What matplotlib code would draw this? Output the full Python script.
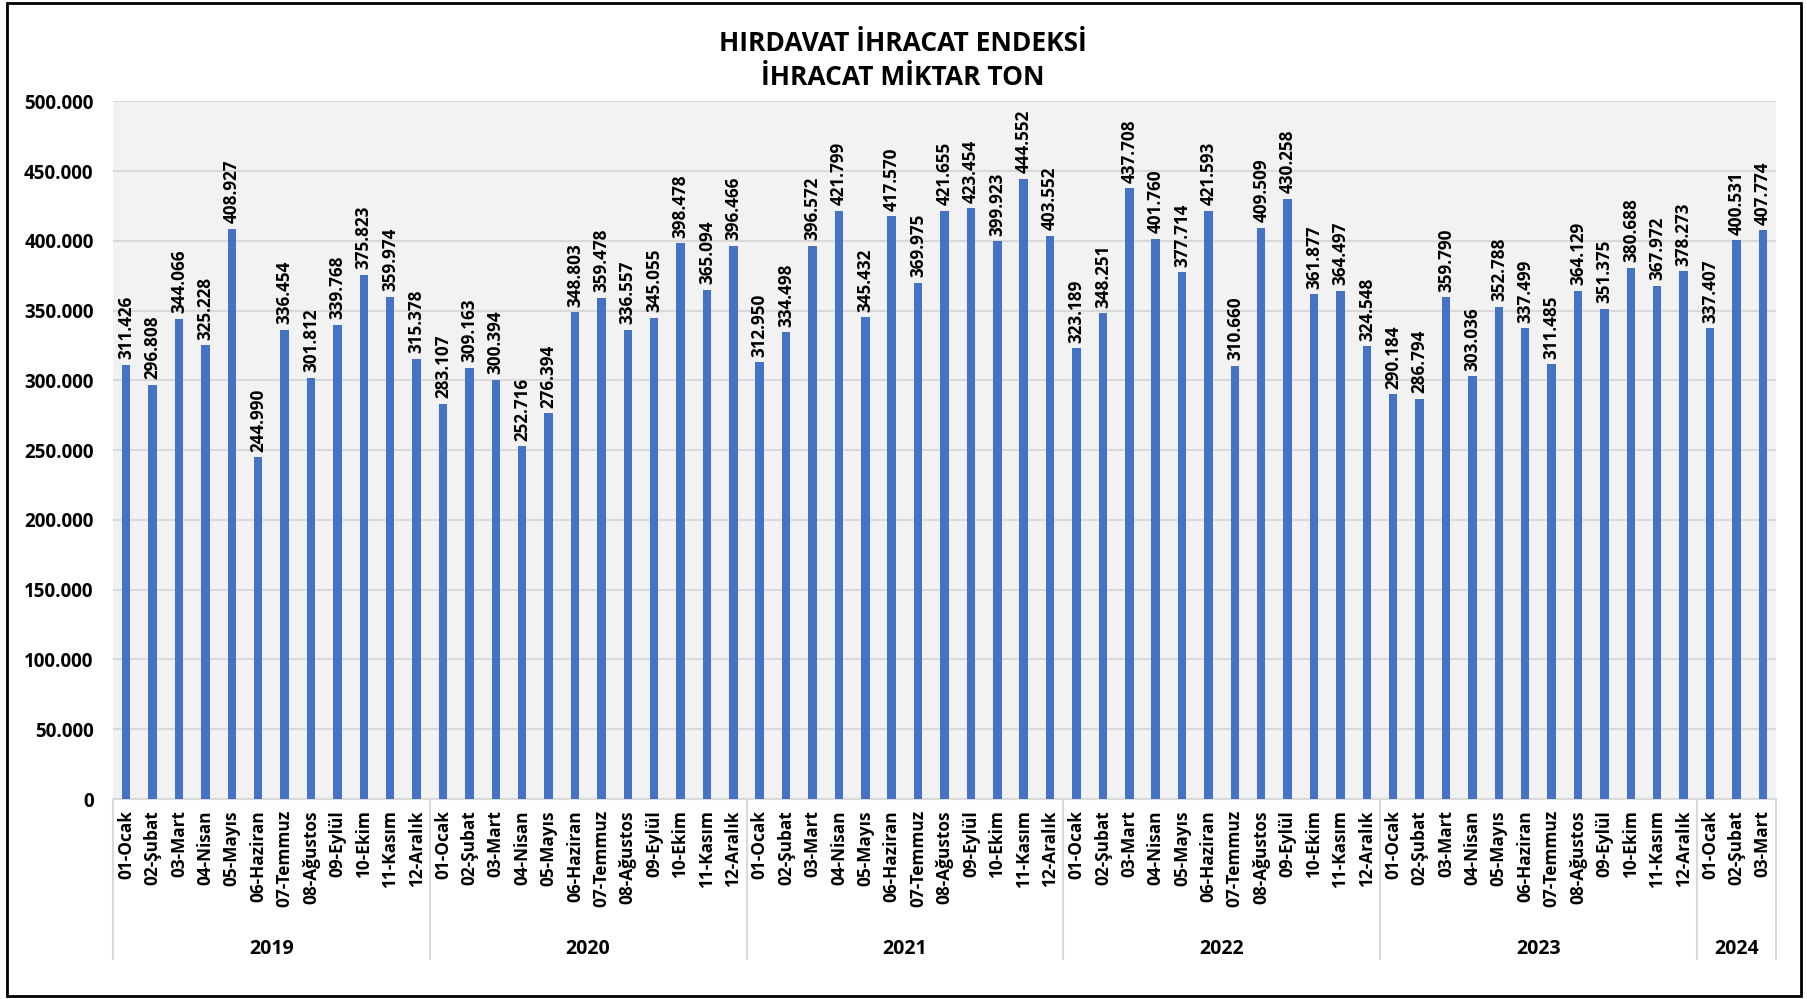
import matplotlib.pyplot as plt
import matplotlib.transforms as mtransforms
from matplotlib.patches import Rectangle
import numpy as np

plt.rcParams['font.family'] = ['Open Sans', 'DejaVu Sans']

# data
months = ["01-Ocak", "02-Şubat", "03-Mart", "04-Nisan", "05-Mayıs", "06-Haziran",
          "07-Temmuz", "08-Ağustos", "09-Eylül", "10-Ekim", "11-Kasım", "12-Aralık"]
years = ["2019", "2020", "2021", "2022", "2023", "2024"]

v2019 = [311426, 296808, 344066, 325228, 408927, 244990, 336454, 301812, 339768, 375823, 359974, 315378]
v2020 = [283107, 309163, 300394, 252716, 276394, 348803, 359478, 336557, 345055, 398478, 365094, 396466]
v2021 = [312950, 334498, 396572, 421799, 345432, 417570, 369975, 421655, 423454, 399923, 444552, 403552]
v2022 = [323189, 348251, 437708, 401760, 377714, 421593, 310660, 409509, 430258, 361877, 364497, 324548]
v2023 = [290184, 286794, 359790, 303036, 352788, 337499, 311485, 364129, 351375, 380688, 367972, 378273]
v2024 = [337407, 400531, 407774]

series = [v2019, v2020, v2021, v2022, v2023, v2024]
values = [v for s in series for v in s]
labels = [months[i] for s in series for i in range(len(s))]
x = np.arange(len(values))


def fmt(v):
    return f"{v:,.0f}".replace(",", ".")


fig = plt.figure(figsize=(18.08, 9.99), dpi=100)
ax = fig.add_axes([0.0625, 0.2002, 0.9198, 0.6982])
ax.set_facecolor("#F2F2F2")

ax.bar(x, values, width=0.32, color="#4472C4", zorder=3)

for xi, v in zip(x, values):
    ax.text(xi, v + 4000, fmt(v), rotation=90, ha="center", va="bottom",
            fontsize=12.3, fontweight="bold", zorder=4)

ax.set_xlim(-0.5, len(values) - 0.5)
ax.set_ylim(0, 500000)
yt = np.arange(0, 500001, 50000)
ax.set_yticks(yt)
ax.set_yticklabels([fmt(t) for t in yt], fontsize=13.5, fontweight="bold")
ax.yaxis.grid(True, color="#D9D9D9", lw=1.5, zorder=0)
ax.tick_params(axis="y", length=0, pad=14)

ax.set_xticks(x)
ax.set_xticklabels(labels, rotation=90, fontsize=12.4, fontweight="bold")
ax.tick_params(axis="x", length=0, pad=8)

for side in ["left", "right", "top"]:
    ax.spines[side].set_visible(False)
ax.spines["bottom"].set_color("#D9D9D9")
ax.spines["bottom"].set_linewidth(1.5)

# year groups
trans = mtransforms.blended_transform_factory(ax.transData, ax.transAxes)
start = 0
bounds = [-0.5]
for yr, s in zip(years, series):
    end = start + len(s)
    bounds.append(end - 0.5)
    ax.text((start + end - 1) / 2, -0.215, yr, transform=trans, ha="center",
            va="center", fontsize=14, fontweight="bold")
    start = end
for b in bounds:
    ax.plot([b, b], [0, -0.229], transform=trans, color="#D9D9D9", lw=1.5,
            clip_on=False)

fig.text(0.4995, 0.956, "HIRDAVAT İHRACAT ENDEKSİ", ha="center", va="center",
         fontsize=19, fontweight="bold")
fig.text(0.4995, 0.922, "İHRACAT MİKTAR TON", ha="center", va="center",
         fontsize=19, fontweight="bold")

fig.patches.append(Rectangle((0.004, 0.003), 0.992, 0.994, transform=fig.transFigure,
                             fill=False, edgecolor="black", lw=2))

fig.savefig("out.png", dpi=100)
